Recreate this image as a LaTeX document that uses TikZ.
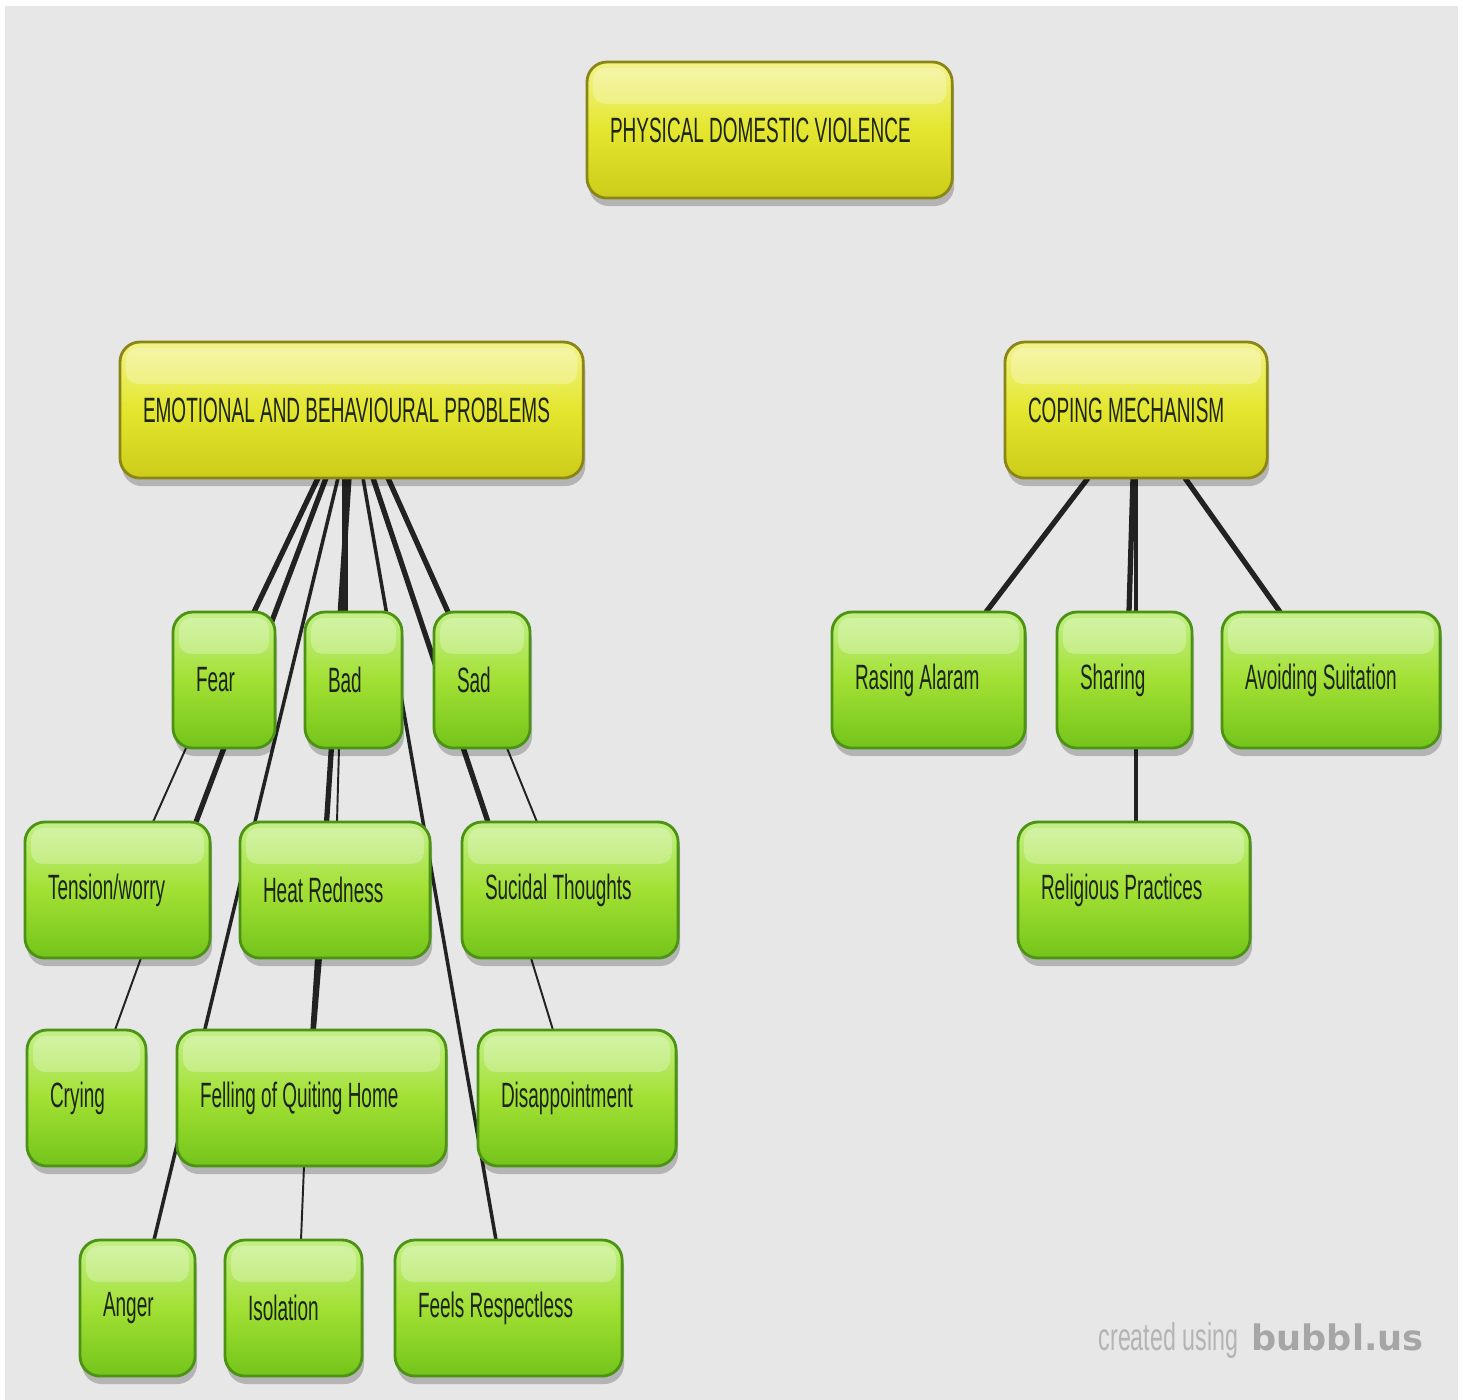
\documentclass[tikz,border=0pt]{standalone}
\usepackage{fontspec}
\setmainfont{Liberation Sans}
\newfontfamily\nar[FakeStretch=0.54]{Liberation Sans}
\newfontfamily\wmfont[FakeStretch=0.6]{Liberation Sans}
\newfontfamily\wmbold{DejaVu Sans}
\usetikzlibrary{calc,shadows}
\definecolor{bgc}{HTML}{E7E7E7}
\definecolor{txt}{HTML}{1C2414}
\definecolor{gbd}{HTML}{4C9214}
\definecolor{gtop}{HTML}{C4F088}
\definecolor{gmid}{HTML}{A2E034}
\definecolor{gbot}{HTML}{74C41A}
\definecolor{ybd}{HTML}{8A8616}
\definecolor{ytop}{HTML}{F2F38C}
\definecolor{ymid}{HTML}{E4E62E}
\definecolor{ybot}{HTML}{CCCC1A}
\definecolor{lnc}{HTML}{222222}
\definecolor{wmc}{HTML}{B4B4B4}
\definecolor{wmb}{HTML}{A6A6A6}
\pgfdeclarelayer{bgl}
\pgfdeclarelayer{lnl}
\pgfsetlayers{bgl,lnl,main}
\newcommand{\lbx}[2]{\makebox[#1][l]{#2}}
\begin{document}
\begin{tikzpicture}[x=0.01cm,y=-0.01cm,
  box/.style={rounded corners=0.2cm, line width=0.8pt, minimum height=1.36cm,
    inner xsep=0.23cm, inner ysep=0pt, outer sep=0pt, anchor=north west,
    font=\nar\fontsize{10}{12}\selectfont, text=txt,
    drop shadow={shadow xshift=0.02cm, shadow yshift=-0.08cm, opacity=0.22, fill=black},
    path picture={\fill[white,opacity=0.28,rounded corners=0.12cm]
      ($(path picture bounding box.north west)+(0.06cm,-0.06cm)$) rectangle
      ($(path picture bounding box.north east)+(-0.06cm,-0.42cm)$);}},
  gbox/.style={box, draw=gbd, top color=gtop, bottom color=gbot, middle color=gmid},
  ybox/.style={box, draw=ybd, top color=ytop, bottom color=ybot, middle color=ymid},
  thk/.style={draw=lnc, line width=1.5pt},
  mid/.style={draw=lnc, line width=1.0pt},
  thn/.style={draw=lnc, line width=0.55pt}]

\useasboundingbox (0,0) rectangle (1463,1400);
\begin{pgfonlayer}{bgl}
\fill[white] (0,0) rectangle (1463,1400);
\fill[bgc] (5,6) rectangle (1458,1400);
\end{pgfonlayer}

% top level
\node[ybox] (pdv) at (587,62) {\lbx{3.19cm}{PHYSICAL DOMESTIC VIOLENCE}};
\node[ybox] (emo) at (120,342) {\lbx{4.17cm}{EMOTIONAL AND BEHAVIOURAL PROBLEMS}};
\node[ybox] (cop) at (1005,342) {\lbx{2.16cm}{COPING MECHANISM}};

% row 2
\node[gbox] (fear) at (173,612) {\lbx{0.56cm}{Fear}};
\node[gbox] (bad) at (305,612) {\lbx{0.51cm}{Bad}};
\node[gbox] (sad) at (434,612) {\lbx{0.50cm}{Sad}};
\node[gbox] (ras) at (832,612) {\lbx{1.47cm}{Rasing Alaram}};
\node[gbox] (sha) at (1057,612) {\lbx{0.89cm}{Sharing}};
\node[gbox] (avo) at (1222,612) {\lbx{1.72cm}{Avoiding Suitation}};

% row 3
\node[gbox] (ten) at (25,822) {\lbx{1.39cm}{Tension/worry}};
\node[gbox] (hea) at (240,822) {\lbx{1.44cm}{Heat Redness}};
\node[gbox] (suc) at (462,822) {\lbx{1.70cm}{Sucidal Thoughts}};
\node[gbox] (rel) at (1018,822) {\lbx{1.86cm}{Religious Practices}};

% row 4
\node[gbox] (cry) at (27,1030) {\lbx{0.73cm}{Crying}};
\node[gbox] (fel) at (177,1030) {\lbx{2.23cm}{Felling of Quiting Home}};
\node[gbox] (dis) at (478,1030) {\lbx{1.52cm}{Disappointment}};

% row 5
\node[gbox] (ang) at (80,1240) {\lbx{0.69cm}{Anger}};
\node[gbox] (iso) at (225,1240) {\lbx{0.91cm}{Isolation}};
\node[gbox] (fee) at (395,1240) {\lbx{1.81cm}{Feels Respectless}};

% watermark
\node[anchor=base west, inner sep=0pt, text=wmc, font=\wmfont\fontsize{11}{13}\selectfont] (wm1) at (1098,1350) {created using};
\node[anchor=base west, inner sep=0pt, text=wmb, font=\wmbold\bfseries\fontsize{10}{12}\selectfont] (wm2) at ($(wm1.base east)+(12,0)$) {bubbl.us};

% connectors
\begin{pgfonlayer}{lnl}
\draw[thk] ($(emo.south west)+(198,0)$) -- ($(fear.north west)+(81,0)$);
\draw[thk] ($(emo.south west)+(206,0)$) -- ($(ten.north west)+(171,0)$);
\draw[thn] ($(fear.south west)+(13,0)$) -- ($(ten.north west)+(128,0)$);
\draw[mid] ($(emo.south west)+(218,0)$) -- ($(ang.north west)+(74,0)$);
\draw[thk] ($(emo.south west)+(225,0)$) -- ($(bad.north west)+(40,0)$);
\draw[thk] ($(emo.south west)+(229,0)$) -- ($(fel.north west)+(136,0)$);
\draw[thn] ($(bad.south west)+(34,0)$) -- ($(hea.north west)+(97,0)$);
\draw[thn] ($(hea.south west)+(81,0)$) -- ($(fel.north west)+(138,0)$);
\draw[mid] ($(emo.south west)+(243,0)$) -- ($(fee.north west)+(101,0)$);
\draw[thk] ($(emo.south west)+(253,0)$) -- ($(suc.north west)+(26,0)$);
\draw[thk] ($(emo.south west)+(268,0)$) -- ($(sad.north west)+(14,0)$);
\draw[thn] ($(sad.south west)+(73,0)$) -- ($(suc.north west)+(75,0)$);
\draw[thn] ($(ten.south west)+(116,0)$) -- ($(cry.north west)+(88,0)$);
\draw[thn] ($(suc.south west)+(69,0)$) -- ($(dis.north west)+(75,0)$);
\draw[thn] ($(fel.south west)+(127,0)$) -- ($(iso.north west)+(76,0)$);
\draw[thk] ($(cop.south west)+(83,0)$) -- ($(ras.north west)+(154,0)$);
\draw[thk] ($(cop.south west)+(128,0)$) -- ($(sha.north west)+(72,0)$);
\draw[mid] ($(cop.south west)+(131,0)$) -- ($(rel.north west)+(118,0)$);
\draw[thk] ($(cop.south west)+(180,0)$) -- ($(avo.north west)+(58,0)$);
\end{pgfonlayer}
\end{tikzpicture}
\end{document}
